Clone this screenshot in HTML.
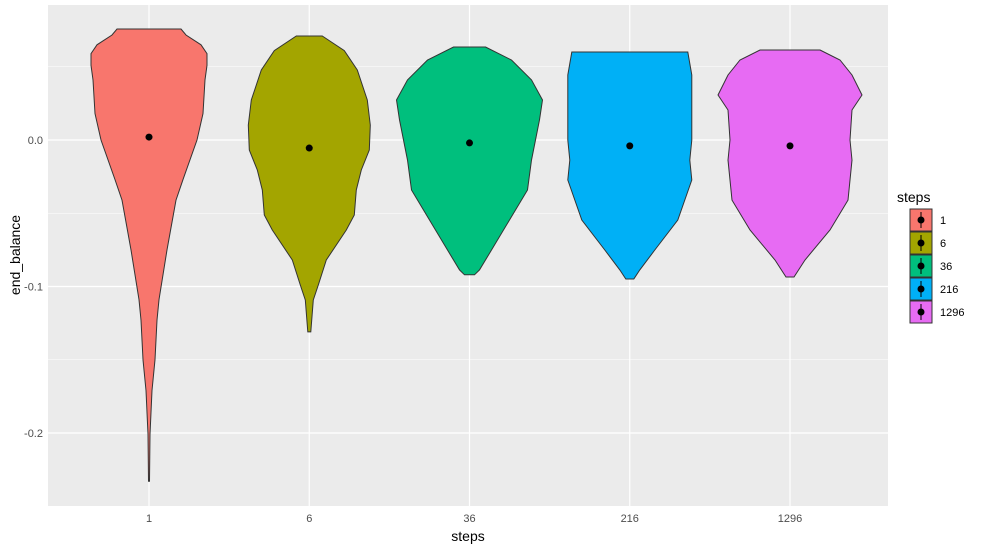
<!DOCTYPE html>
<html><head><meta charset="utf-8"><style>
body{margin:0;background:#fff}
svg text{font-family:"Liberation Sans",sans-serif}
</style></head><body>
<svg id="chart" width="983" height="550" xmlns="http://www.w3.org/2000/svg">
<rect x="48" y="5" width="840" height="501" fill="#ebebeb"/>
<g id="grid"></g>
<g id="violins"></g>
<g id="axes"></g>
<g id="legend"></g>
</svg>
<script>
const categories = ["1","6","36","216","1296"];
const colors = ["#f8766d","#a3a500","#00bf7d","#00b0f6","#e76bf3"];
const medians = [0.002,-0.0055,-0.002,-0.004,-0.004];
const profileValues = [
 [0.0758,0.0717,0.065,0.059,0.051,0.041,0.018,0,-0.027,-0.041,-0.075,-0.109,-0.123,-0.150,-0.171,-0.201,-0.233],
 [0.071,0.061,0.0478,0.0273,0.0102,-0.0068,-0.0205,-0.0341,-0.0512,-0.0614,-0.0819,-0.099,-0.1092,-0.131],
 [0.0635,0.0546,0.041,0.0273,0.0137,-0.0137,-0.0341,-0.0546,-0.0751,-0.0887,-0.092],
 [0.0601,0.0444,0.0273,0,-0.0137,-0.0273,-0.0546,-0.0751,-0.0887,-0.0949],
 [0.0614,0.0546,0.0444,0.0307,0.0205,0,-0.0137,-0.041,-0.0614,-0.0819,-0.0935]
];
const profileWidths = [
 [32,37,52,58,58,56,54,48,34,27,18,10,8,6,3,1,0.5],
 [13,35,48,58,61,60,52,47,45,37,17,9,4,1.5],
 [16,42,62,73,70,62,58,40,22,10,5],
 [58,62,62,62,60,62,48,25,10,4],
 [30,50,62,72,62,60,62,58,40,15,4]
];
const yTicks = [0,-0.1,-0.2];
const yTickLabels = ["0.0","-0.1","-0.2"];
const yMinor = [0.05,-0.05,-0.15];

const NS="http://www.w3.org/2000/svg";
function y(v){return 140-(v)*1465;}
function x(i){return 149+i*160.25;}
function mk(tag,attrs,parent){const e=document.createElementNS(NS,tag);for(const k in attrs)e.setAttribute(k,attrs[k]);parent.appendChild(e);return e;}
const grid=document.getElementById('grid'),vg=document.getElementById('violins'),ax=document.getElementById('axes'),lg=document.getElementById('legend');
yMinor.forEach(v=>{const l=mk('line',{x1:48,x2:888,y1:y(v),y2:y(v),stroke:'#fff','stroke-width':0.6},grid);

});
yTicks.forEach((v,i)=>{const l=mk('line',{x1:48,x2:888,y1:y(v),y2:y(v),stroke:'#fff','stroke-width':1.2},grid);


const t=mk('text',{x:43,y:y(v)+4,'text-anchor':'end','font-size':11,fill:'#4d4d4d'},ax);t.textContent=yTickLabels[i];

});
categories.forEach((c,i)=>{const l=mk('line',{x1:x(i),x2:x(i),y1:5,y2:506,stroke:'#fff','stroke-width':1.2},grid);


const t=mk('text',{x:x(i),y:522,'text-anchor':'middle','font-size':11,fill:'#4d4d4d'},ax);t.textContent=c;


const vals=profileValues[i],w=profileWidths[i];
let pts=[];vals.forEach((v,j)=>pts.push((x(i)+w[j]).toFixed(1)+','+y(v).toFixed(1)));
for(let j=vals.length-1;j>=0;j--)pts.push((x(i)-w[j]).toFixed(1)+','+y(vals[j]).toFixed(1));
const p=mk('polygon',{points:pts.join(' '),fill:colors[i],stroke:'#333','stroke-width':1},vg);


const d=mk('circle',{cx:x(i),cy:y(medians[i]),r:3.5,fill:'#000'},vg);


const k=mk('rect',{x:910,y:209+i*23,width:22,height:22,fill:colors[i],stroke:'#333','stroke-width':1},lg);


mk('line',{x1:921,x2:921,y1:212+i*23,y2:228+i*23,stroke:'#000','stroke-width':1},lg);
mk('circle',{cx:921,cy:220+i*23,r:3.5,fill:'#000'},lg);
const lt=mk('text',{x:940,y:224+i*23,'font-size':11,fill:'#000'},lg);lt.textContent=c;


});
const xt=mk('text',{x:468,y:541,'text-anchor':'middle','font-size':14,fill:'#000'},ax);xt.textContent='steps';


const yt=mk('text',{x:0,y:0,'text-anchor':'middle','font-size':14,fill:'#000',transform:'translate(20,255) rotate(-90)'},ax);yt.textContent='end_balance';


const lt=mk('text',{x:897,y:202,'font-size':14,fill:'#000'},lg);lt.textContent='steps';


</script>
</body></html>
